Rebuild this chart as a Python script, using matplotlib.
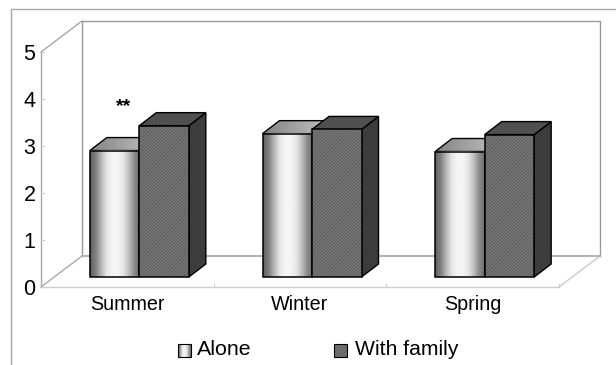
import numpy as np
import matplotlib
matplotlib.use("Agg")
import matplotlib.pyplot as plt
from matplotlib.patches import Polygon, Rectangle

plt.rcParams['font.family'] = ['Liberation Sans', 'DejaVu Sans']
plt.rcParams['hatch.linewidth'] = 0.4

seasons = ["Summer", "Winter", "Spring"]
alone = [2.69, 3.05, 2.67]
with_family = [3.22, 3.14, 3.03]
y_ticks = [0, 1, 2, 3, 4, 5]
legend_labels = ["Alone", "With family"]
stars = "**"

W, H = 616, 365
GREY = "#a8a8a8"
LIGHT = "#cccccc"

# pixel helpers for the fake 3d box
left, right, bottom, top = 41, 559, 287, 52
px_x = 3 / (right - left)
px_y = 5 / (bottom - top)
DX, DY = 41 * px_x, 31 * px_y      # depth of the box
BDX, BDY = 17 * px_x, 13 * px_y    # depth of a bar
BW = 49.5 * px_x                   # width of a bar
SHX, SHY = 12 * px_x, 10 * px_y    # bars sit a bit inside the floor

metal = np.array([0.38, 0.5, 0.72, 0.9, 0.96, 0.96, 0.9, 0.75, 0.55, 0.42])
metal = np.interp(np.linspace(0, 9, 80), np.arange(10), metal).reshape(1, -1)
top_grad = np.linspace(0.52, 0.76, 60).reshape(1, -1)

fig = plt.figure(figsize=(W / 100, H / 100), dpi=100)
fig.patch.set_facecolor("white")

# outer frame of the picture
fig.add_artist(plt.Line2D([11 / W, 11 / W, 616 / W], [0, 1 - 8.5 / H, 1 - 8.5 / H], color=GREY, lw=1))

ax = fig.add_axes([left / W, 1 - bottom / H, (right - left) / W, (bottom - top) / H])
ax.set_xlim(0, 3)
ax.set_ylim(0, 5)
for s in ax.spines.values():
    s.set_visible(False)
ax.patch.set_visible(False)
ax.set_xticks([0.5, 1.5, 2.5])
ax.set_xticklabels(seasons, fontsize=14.2)
ax.tick_params(axis='x', length=0, pad=6)
ax.set_yticks(y_ticks)
ax.set_yticklabels(y_ticks, fontsize=15.5)
ax.tick_params(axis='y', length=0, pad=4)

# walls and floor
ax.plot([0, 0], [0, 5], color=GREY, lw=1, clip_on=False)
ax.plot([0, 3], [0, 0], color=LIGHT, lw=1, clip_on=False)
ax.plot([3, 3 + DX], [0, DY], color=LIGHT, lw=1, clip_on=False)
ax.plot([0, DX], [5, 5 + DY], color=GREY, lw=1, clip_on=False)
ax.plot([0, DX], [0, DY], color=GREY, lw=1, clip_on=False)
ax.plot([DX, DX, 3 + DX, 3 + DX], [DY, 5 + DY, 5 + DY, DY], color="#999999", lw=1, clip_on=False)
ax.plot([DX, 3 + DX], [DY, DY], color="#b4b4b4", lw=1.5, clip_on=False)
for i in range(1, 4):
    ax.plot([i, i], [0, 3 * px_y], color=LIGHT, lw=0.8, clip_on=False)
for v in y_ticks:
    ax.plot([0, 3 * px_x], [v, v], color=LIGHT, lw=0.8, clip_on=False)


def side(x, h, fc):
    ax.add_patch(Polygon([(x, SHY), (x + BDX, SHY + BDY), (x + BDX, h + BDY), (x, h)],
                         fc=fc, ec="black", lw=1, clip_on=False, zorder=3))


def top_face(x, w, h, fc):
    ax.add_patch(Polygon([(x, h), (x + BDX, h + BDY), (x + w + BDX, h + BDY), (x + w, h)],
                         fc=fc, ec="black", lw=1, clip_on=False, zorder=3))


for i in range(len(seasons)):
    x0 = i + 0.5 + SHX - BW

    # alone, the metal looking bar
    h = alone[i] + SHY
    poly = Polygon([(x0, h), (x0 + BDX, h + BDY), (x0 + BW + BDX, h + BDY), (x0 + BW, h)],
                   fc="none", ec="black", lw=1, clip_on=False, zorder=3)
    ax.add_patch(poly)
    im = ax.imshow(top_grad, extent=[x0, x0 + BW + BDX, h, h + BDY], cmap="gray", vmin=0, vmax=1,
                   aspect="auto", zorder=2.5, clip_on=True)
    im.set_clip_path(poly)
    ax.imshow(metal, extent=[x0, x0 + BW, SHY, h], cmap="gray", vmin=0, vmax=1, aspect="auto", zorder=3)
    ax.add_patch(Rectangle((x0, SHY), BW, alone[i], fc="none", ec="black", lw=1.1, clip_on=False, zorder=4))

    # with family, dark hatched bar
    x1 = x0 + BW
    h = with_family[i] + SHY
    side(x1 + BW, h, "#3c3c3c")
    top_face(x1, BW, h, "#505050")
    ax.add_patch(Rectangle((x1, SHY), BW, with_family[i], fc="#777777", ec="#4c4c4c", hatch="//////////",
                           lw=0, clip_on=False, zorder=5))
    ax.add_patch(Rectangle((x1, SHY), BW, with_family[i], fc="none", ec="black", lw=1.1, clip_on=False, zorder=6))

ax.set_xlim(0, 3)
ax.set_ylim(0, 5)
ax.text(0.5 + SHX - BW * 0.32, 3.83, stars, ha="center", va="center", fontsize=14, fontweight="bold")

# legend drawn by hand because of the gradient swatch
leg = fig.add_axes([0, 0, 1, 1], zorder=5)
leg.set_xlim(0, W)
leg.set_ylim(H, 0)
leg.axis("off")
leg.imshow(metal, extent=[178, 191, 357, 344], cmap="gray", vmin=0, vmax=1, aspect="auto")
leg.add_patch(Rectangle((178, 344), 13, 13, fc="none", ec="black", lw=0.8))
leg.add_patch(Rectangle((334, 344), 13, 13, fc="#777777", ec="#4c4c4c", hatch="//////////", lw=0))
leg.add_patch(Rectangle((334, 344), 13, 13, fc="none", ec="black", lw=0.8))
leg.set_xlim(0, W)
leg.set_ylim(H, 0)
leg.text(197, 349.5, legend_labels[0], fontsize=15.4, va="center", ha="left")
leg.text(355, 349.5, legend_labels[1], fontsize=15.2, va="center", ha="left")

fig.savefig("out.png", dpi=100)
